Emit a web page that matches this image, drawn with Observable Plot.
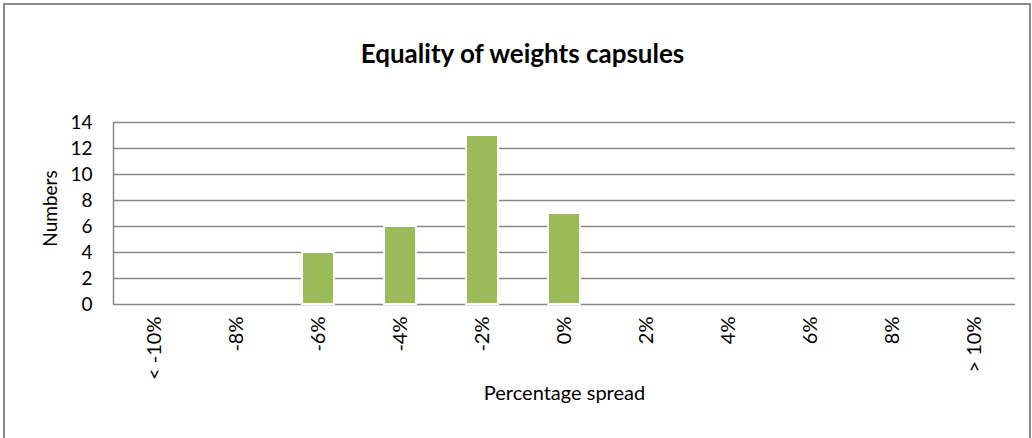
<!DOCTYPE html>
<html>
<head>
<meta charset="utf-8">
<script src="https://cdn.jsdelivr.net/npm/d3@7"></script>
<script src="https://cdn.jsdelivr.net/npm/@observablehq/plot@0.6"></script>
<style>
  html, body { margin: 0; padding: 0; background: #fff; overflow: hidden; }
  #wrap { position: relative; width: 1032px; height: 438px; }
  #border { position: absolute; left: 3px; top: 3px; width: 1024px; height: 450px;
            border: 2px solid #8a8a8a; pointer-events: none; }
</style>
</head>
<body>
<div id="wrap"><div id="border"></div></div>
<script>
const categories = ["< -10%", "-8%", "-6%", "-4%", "-2%", "0%", "2%", "4%", "6%", "8%", "> 10%"];
const counts = [0, 0, 4, 6, 13, 7, 0, 0, 0, 0, 0];
const yTicks = [0, 2, 4, 6, 8, 10, 12, 14];
const title = "Equality of weights capsules";
const xLabel = "Percentage spread";
const yLabel = "Numbers";

const data = categories.map((c, i) => ({category: c, count: counts[i]}));
const font = "Lato, Carlito, 'Open Sans', sans-serif";
const W = 1032, ML = 113, MR = 17;
const step = (W - ML - MR) / categories.length;

const chart = Plot.plot({
  width: W,
  height: 438,
  marginTop: 122,
  marginBottom: 134,
  marginLeft: ML,
  marginRight: MR,
  style: {fontFamily: font, fontSize: "20px", color: "#000", background: "transparent"},
  x: {domain: categories, paddingInner: 0.61, paddingOuter: 0.305, label: null, axis: null},
  y: {domain: [0, 14], label: null, axis: null},
  marks: [
    Plot.ruleY(yTicks, {stroke: "#868686", strokeWidth: 1.5, strokeOpacity: 1}),
    Plot.ruleX([categories[0]], {y1: 0, y2: 14, dx: -step / 2, stroke: "#868686", strokeWidth: 1.5, strokeOpacity: 1}),
    Plot.barY(data, {x: "category", y: "count", fill: "#9BBB59", stroke: "#fff", strokeWidth: 2,
      style: "filter: drop-shadow(1px 1px 1.5px rgba(0,0,0,0.35))"}),
    Plot.axisX({tickRotate: -90, tickSize: 0, tickPadding: 12, fontSize: 20, label: null}),
    Plot.axisY({ticks: yTicks, tickSize: 0, tickPadding: 21, fontSize: 19, label: null}),
    Plot.text([title], {frameAnchor: "top", dx: -42, dy: -78, text: d => d, fontSize: 26, fontWeight: "bold"}),
    Plot.text([yLabel], {frameAnchor: "left", textAnchor: "middle", dx: -63, dy: -5, rotate: -90, text: d => d, fontSize: 19}),
    Plot.text([xLabel], {frameAnchor: "bottom", dy: 95, text: d => d, fontSize: 20})
  ]
});
chart.style.position = "absolute";
chart.style.left = "0";
chart.style.top = "0";
document.getElementById("wrap").appendChild(chart);
</script>
</body>
</html>
